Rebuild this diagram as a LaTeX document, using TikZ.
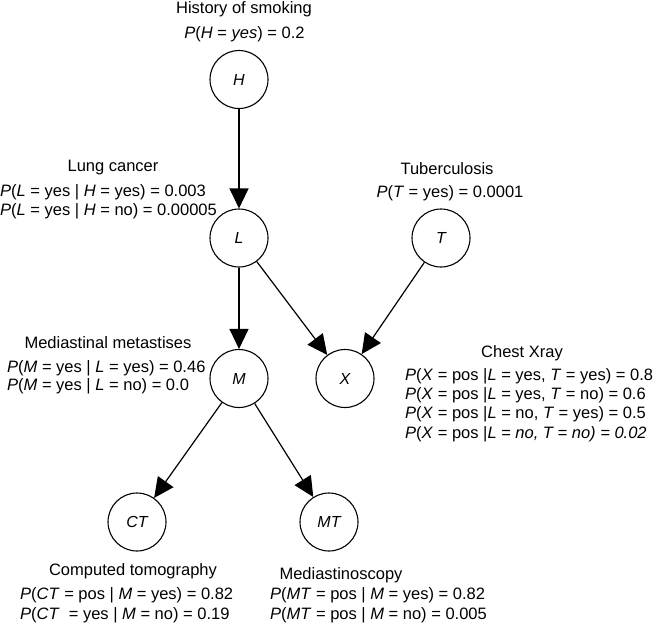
\documentclass[tikz,border=0pt]{standalone}
\usepackage{fontspec}
\setmainfont{Liberation Sans}
\usetikzlibrary{arrows.meta}
\newcommand\iv[1]{\textit{#1}}
\begin{document}
\begin{tikzpicture}[x=1pt,y=-1pt,
  var/.style={circle,draw,line width=1.1pt,minimum size=58pt,inner sep=0pt,font=\fontsize{16}{19}\selectfont\itshape},
  edge/.style={line width=1.2pt,-{Triangle[length=20pt,width=19pt]}},
  lbl/.style={inner sep=0pt,font=\fontsize{16.5}{19}\selectfont},
  ttl/.style={lbl,anchor=base},
  row/.style={lbl,anchor=base west},
  ]
\useasboundingbox (0,0) rectangle (654,625);
% variables
\node[var] (H) at (239,79.5) {H};
\node[var] (L) at (239,238) {L};
\node[var] (T) at (441,238) {T};
\node[var] (M) at (239,378.5) {M};
\node[var] (X) at (345,378.5) {X};
\node[var] (CT) at (137,522) {CT};
\node[var] (MT) at (329,522) {MT};
% edges
\draw[edge] (H) -- (L);
\draw[edge] (L) -- (M);
\draw[edge] (L) -- (X);
\draw[edge] (T) -- (X);
\draw[edge] (M) -- (CT);
\draw[edge] (M) -- (MT);
% H
\node[ttl] (hT) at (244,13) {History of smoking};
\node[ttl] (h1) at (244.5,38) {\iv{P}(\iv{H} = \iv{yes}) = 0.2};
% L
\node[ttl] (lT) at (113,171) {Lung cancer};
\node[row] (l1) at (0,196) {\iv{P}(\iv{L} = yes | \iv{H} = yes) = 0.003};
\node[row] (l2) at (0,215) {\iv{P}(\iv{L} = yes | \iv{H} = no) = 0.00005};
% T
\node[ttl] (tT) at (447,174) {Tuberculosis};
\node[ttl] (t1) at (450,197) {\iv{P}(\iv{T} = yes) = 0.0001};
% M
\node[ttl] (mT) at (108,348) {Mediastinal metastises};
\node[row] (m1) at (7,372) {\iv{P}(\iv{M} = yes | \iv{L} = yes) = 0.46};
\node[row] (m2) at (7,390) {\iv{P}(\iv{M} = yes | \iv{L} = no) = 0.0};
% X
\node[ttl] (xT) at (522,357) {Chest Xray};
\node[row] (x1) at (405,380) {\iv{P}(\iv{X} = pos |\iv{L} = yes, \iv{T} = yes) = 0.8};
\node[row] (x2) at (405,399) {\iv{P}(\iv{X} = pos |\iv{L} = yes, \iv{T} = no) = 0.6};
\node[row] (x3) at (405,418) {\iv{P}(\iv{X} = pos |\iv{L} = no, \iv{T} = yes) = 0.5};
\node[row] (x4) at (405,438) {\iv{P}(\iv{X} = pos |\iv{L = no, T = no) = 0.02}};
% CT
\node[ttl] (cT) at (133,575) {Computed tomography};
\node[row] (c1) at (20,599) {\iv{P}(\iv{CT} = pos | \iv{M} = yes) = 0.82};
\node[row] (c2) at (20,619) {\iv{P}(\iv{CT}\ \ = yes | \iv{M} = no) = 0.19};
% MT
\node[ttl] (nT) at (341,579) {Mediastinoscopy};
\node[row] (n1) at (270,599) {\iv{P}(\iv{MT} = pos | \iv{M} = yes) = 0.82};
\node[row] (n2) at (270,619) {\iv{P}(\iv{MT} = pos | \iv{M} = no) = 0.005};
\end{tikzpicture}
\end{document}
